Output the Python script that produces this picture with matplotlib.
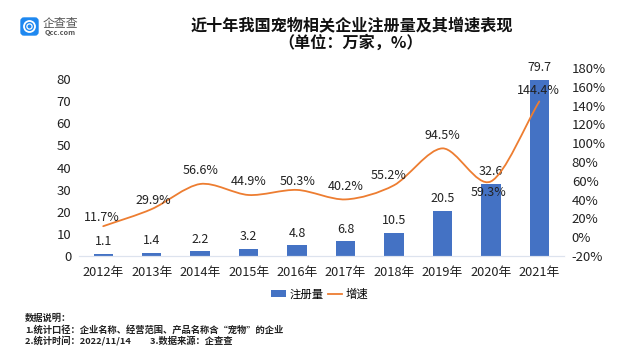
import numpy as np
import matplotlib
matplotlib.use('Agg')
import matplotlib.pyplot as plt
from matplotlib.patches import FancyBboxPatch, Circle, PathPatch
from matplotlib.path import Path

plt.rcParams['font.family'] = ['Noto Sans CJK SC', 'DejaVu Sans']

years = ['2012年', '2013年', '2014年', '2015年', '2016年', '2017年', '2018年', '2019年', '2020年', '2021年']
counts = [1.1, 1.4, 2.2, 3.2, 4.8, 6.8, 10.5, 20.5, 32.6, 79.7]
growth = [11.7, 29.9, 56.6, 44.9, 50.3, 40.2, 55.2, 94.5, 59.3, 144.4]
left_ticks = [0, 10, 20, 30, 40, 50, 60, 70, 80]
right_ticks = [-20, 0, 20, 40, 60, 80, 100, 120, 140, 160, 180]

# label offsets in points, growth labels sit around the line
growth_dx = [-0.7, 1, 0, 0, 0.7, 0, -3.6, 0, -2, -0.7]
growth_dy = [6.5, 6.5, 9.4, 9.4, 5.8, 9.4, 7.2, 9.4, -7.6, 8]

BLUE = '#4472c4'
ORANGE = '#ed7d31'
W, H = 640, 360


def smooth_path(x, y, t=0.3):
    # same kind of smoothing office charts use: bezier through each point
    x = np.asarray(x, float)
    y = np.asarray(y, float)
    dx = np.gradient(x)
    dy = np.gradient(y)
    verts = [(x[0], y[0])]
    codes = [Path.MOVETO]
    for i in range(len(x) - 1):
        verts += [(x[i] + dx[i] * t, y[i] + dy[i] * t),
                  (x[i + 1] - dx[i + 1] * t, y[i + 1] - dy[i + 1] * t),
                  (x[i + 1], y[i + 1])]
        codes += [Path.CURVE4] * 3
    return Path(verts, codes)


fig = plt.figure(figsize=(6.4, 3.6), dpi=100)
ax = fig.add_axes([79 / W, 1 - 256 / H, 484.5 / W, 188 / H])
ax2 = ax.twinx()

pos = np.arange(len(years))
ax.bar(pos, counts, width=0.4, color=BLUE, label='注册量')
ax.set_xlim(-0.5, 9.5)
ax.set_ylim(0, 85)
ax.set_xticks(pos)
ax.set_xticklabels(years, fontsize=9.2, color='#222222')
ax.set_yticks(left_ticks)
ax.tick_params(axis='x', length=0, pad=7)
ax.tick_params(axis='y', length=0, labelsize=9.5, labelcolor='#222222', pad=5.5)

ax2.set_ylim(-20, 180)
ax2.set_yticks(right_ticks)
ax2.set_yticklabels([str(v) + '%' for v in right_ticks], fontsize=9.5, color='#222222')
ax2.tick_params(axis='y', length=0, pad=6)
ax2.add_patch(PathPatch(smooth_path(pos, growth), fill=False, edgecolor=ORANGE, lw=1.3, capstyle='round'))
ax2.plot([], [], color=ORANGE, lw=1.3, label='增速')

for a in (ax, ax2):
    for s in ('top', 'left', 'right'):
        a.spines[s].set_visible(False)
    a.spines['bottom'].set_color('#dde3ee')

for i, v in enumerate(counts):
    ax.annotate(str(v), (i, v), xytext=(0, 8.6), textcoords='offset points',
                ha='center', va='center', fontsize=9, color='#222222')
for i, v in enumerate(growth):
    ax2.annotate(str(v) + '%', (i, v), xytext=(growth_dx[i], growth_dy[i]), textcoords='offset points',
                 ha='center', va='center', fontsize=9, color='#222222')

h1, l1 = ax.get_legend_handles_labels()
h2, l2 = ax2.get_legend_handles_labels()
fig.legend(h1 + h2, l1 + l2, loc='center', bbox_to_anchor=(320 / W, 1 - 294 / H), ncol=2,
           frameon=False, fontsize=8.2, handlelength=1.25, handleheight=0.6, columnspacing=0.35, handletextpad=0.35)

# title
fig.text(352 / W, 1 - 25 / H, '近十年我国宠物相关企业注册量及其增速表现', ha='center', va='center',
         fontsize=11.6, fontweight='bold', color='#111111')
fig.text(351 / W, 1 - 43 / H, '（单位：万家，%）', ha='center', va='center',
         fontsize=11.6, fontweight='bold', color='#111111')

# notes at the bottom
notes = ['数据说明：', '1.统计口径：企业名称、经营范围、产品名称含“宠物”的企业', '2.统计时间：2022/11/14         3.数据来源：企查查']
for i, line in enumerate(notes):
    fig.text(25 / W, 1 - (318 + i * 11.5) / H, line, ha='left', va='center', fontsize=6.7,
             fontweight='bold', color='#222222')

# logo
bg = fig.add_axes([0, 0, 1, 1], zorder=-1)
bg.set_xlim(0, W)
bg.set_ylim(H, 0)
bg.axis('off')
bg.add_patch(FancyBboxPatch((21, 18), 17, 17, boxstyle='round,pad=0,rounding_size=3', fc='#1e88f0', ec='#1e88f0', lw=1))
bg.add_patch(Circle((29.5, 26.5), 5.5, fc='none', ec='white', lw=1.3))
bg.add_patch(Circle((29.5, 26.5), 2.6, fc='none', ec='white', lw=0.9))
bg.text(60, 23, '企查查', ha='center', va='center', fontsize=8.6, color='#555555')
bg.text(60, 33, 'Qcc.com', ha='center', va='center', fontsize=5.2, color='#555555', fontweight='bold')

fig.savefig('out.png', dpi=100)
